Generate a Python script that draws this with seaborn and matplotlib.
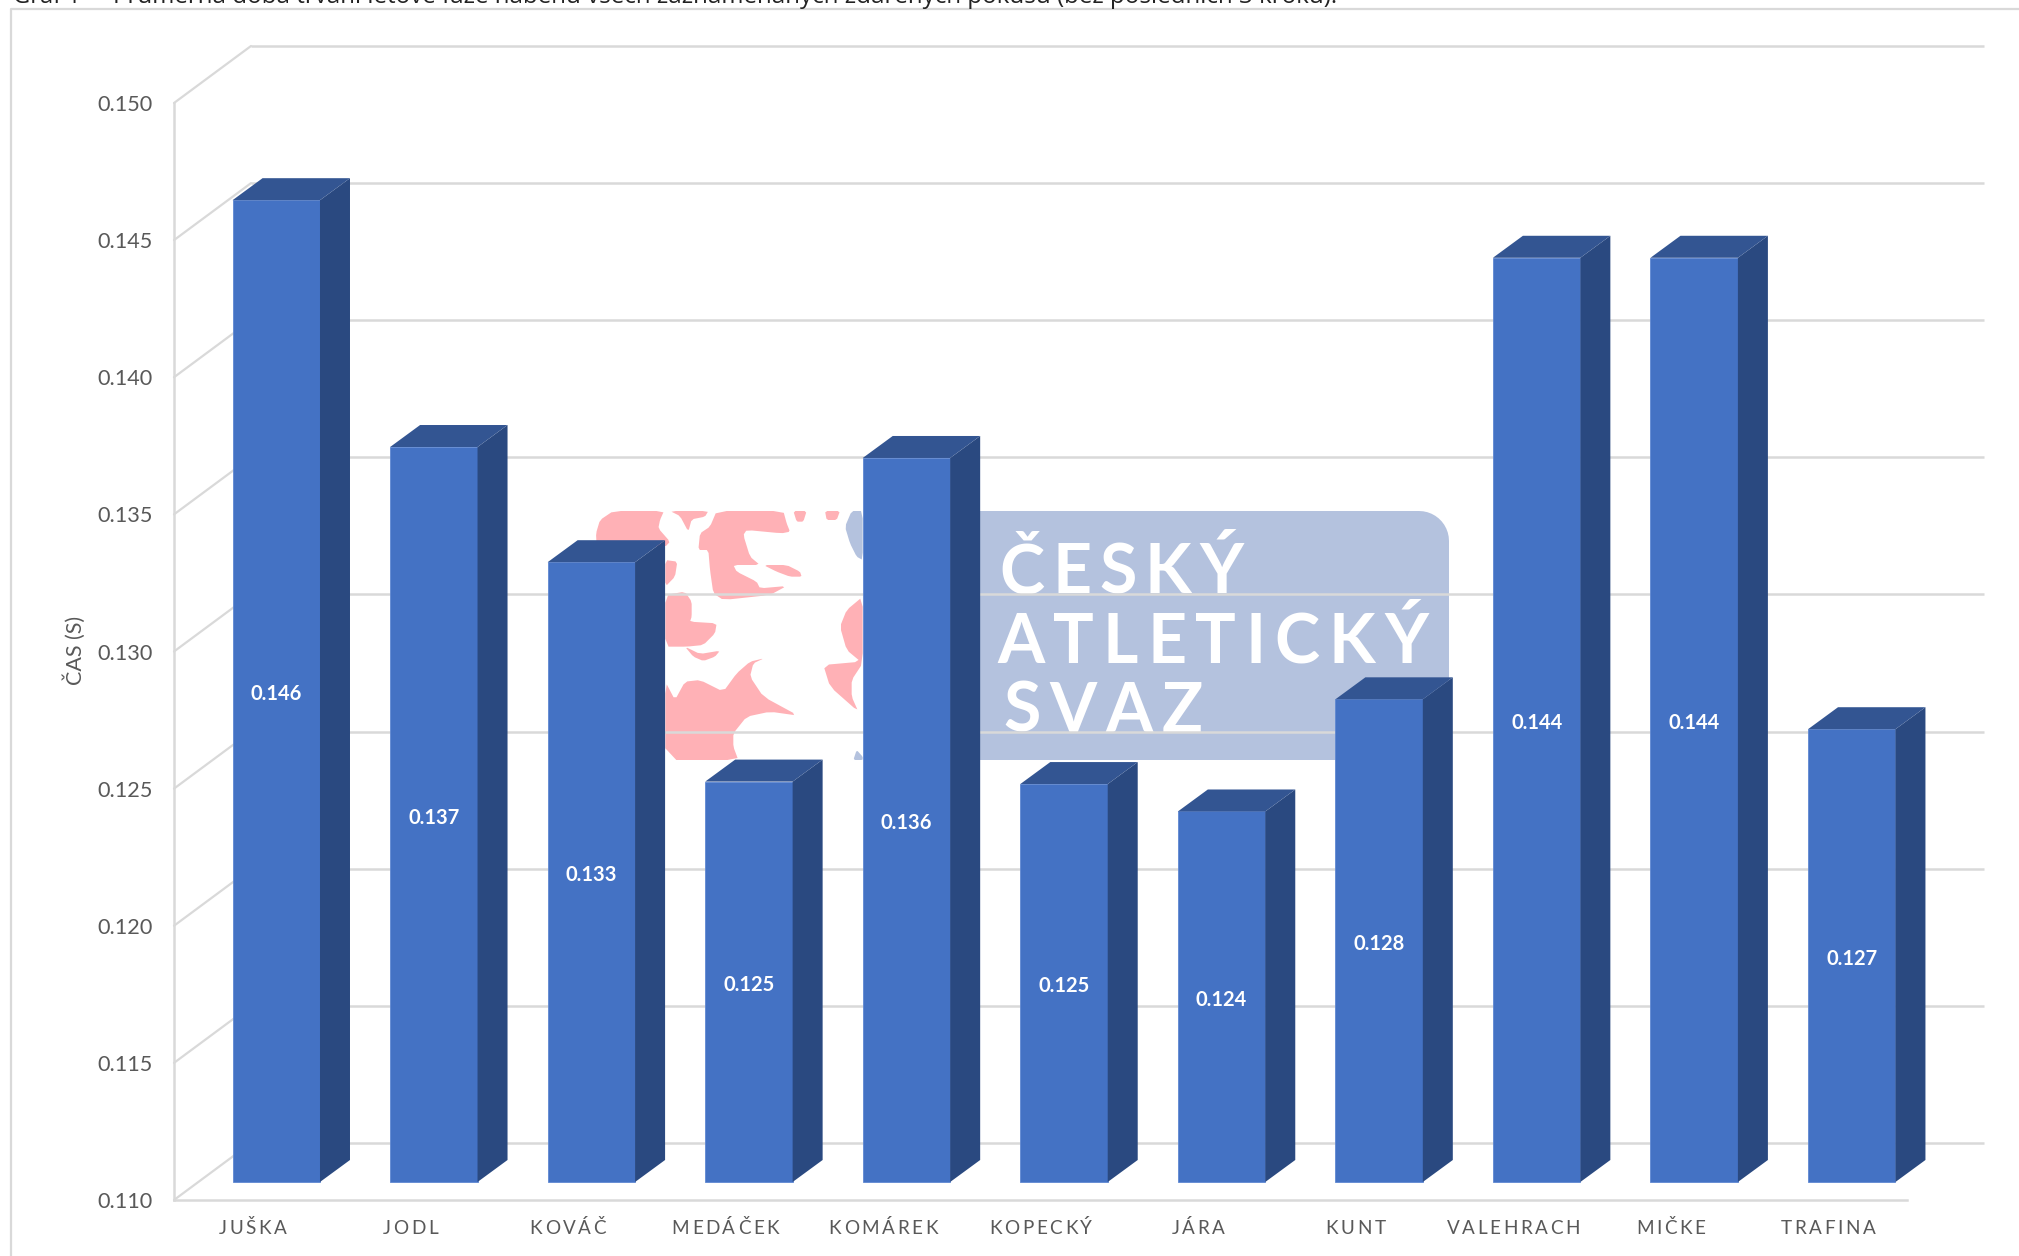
"""3D-look bar chart of flight phase times, drawn on a flat seaborn barplot."""
import matplotlib
matplotlib.use("Agg")
import matplotlib.pyplot as plt
import numpy as np
import seaborn as sns
from matplotlib.lines import Line2D
from matplotlib.patches import Polygon, Rectangle
from matplotlib.text import Text
from matplotlib.transforms import Affine2D, IdentityTransform

names = ["JUŠKA", "JODL", "KOVÁČ", "MEDÁČEK", "KOMÁREK", "KOPECKÝ", "JÁRA", "KUNT",
         "VALEHRACH", "MIČKE", "TRAFINA"]
times = [0.1458, 0.1368, 0.1326, 0.1246, 0.1364, 0.12451, 0.12351, 0.1276, 0.1437, 0.1437, 0.12651]
y_ticks = [0.110, 0.115, 0.120, 0.125, 0.130, 0.135, 0.140, 0.145, 0.150]
y_labels = ["0.110", "0.115", "0.120", "0.125", "0.130", "0.135", "0.140", "0.145", "0.150"]
y_title = "ČAS (S)"
caption_head = "Graf 1"
caption = ("Průměrná doba trvání letové fáze náběhu všech zaznamenaných zdařených pokusů "
           "(bez posledních 3 kroků).")

W, H, DPI = 2019, 1256, 100
BASE = y_ticks[0]
FRONT, SIDE, TOP = "#4472C4", "#2A4980", "#335592"
GRID, TXT = "#D9D9D9", "#595959"
PINK, BLUE = "#FFB1B6", "#B4C2DE"
WALL = (77, 57)     # floor depth in px
BAR_IN = (23.5, 18)   # bars stand a bit behind the front edge
BAR_D = (30, 22)    # depth of one bar

sns.set_theme(style="white")
plt.rcParams["font.family"] = ["Lato", "DejaVu Sans"]

fig = plt.figure(figsize=(W / DPI, H / DPI), dpi=DPI, facecolor="white")
ax = fig.add_axes([174 / W, (H - 1200) / H, (1907 - 174) / W, (1200 - 103) / H], facecolor="none")


def px_poly(points, color, z=-1):
    """Logo piece, points given in image pixels (y down)."""
    pts = [(x, H - y) for x, y in points]
    fig.add_artist(Polygon(pts, closed=True, fc=color, ec="none", transform=IdentityTransform(), zorder=z))


def logo_poly(points, color=PINK):
    p = np.array(points, float)
    q = np.roll(p, -1, axis=0)
    soft = np.column_stack([0.85 * p + 0.15 * q, 0.15 * p + 0.85 * q]).reshape(-1, 2)
    px_poly([(590 + x / 3, 500 + y / 3) for x, y in soft], color)


def track(label, gap):
    """Draw a text letter by letter with gap px of tracking, the string stays whole."""
    def draw(renderer):
        x, y = label.get_transform().transform(label.get_unitless_position())
        fp = label.get_fontproperties()
        s = label.get_text()
        widths = [renderer.get_text_width_height_descent(c, fp, False)[0] for c in s]
        if label.get_ha() == "center":
            x -= (sum(widths) + gap * (len(s) - 1)) / 2
        for c, w in zip(s, widths):
            t = Text(x, y, c, fontproperties=fp, color=label.get_color(), ha="left", va="baseline",
                     transform=IdentityTransform())
            t.set_figure(fig)
            t.draw(renderer)
            x += w + gap
    label.draw = draw


# ---- logo behind the plot ----
arc = np.linspace(0, np.pi / 2, 12)
corner = list(zip(1419 + 30 * np.sin(arc), 541 - 30 * np.cos(arc)))
px_poly([(860, 760), (860, 511)] + corner + [(1449, 760)], BLUE)
fig.add_artist(Rectangle((840, H - 770), 140, 259, fc="white", ec="none", transform=IdentityTransform(), zorder=-1))
logo_poly([(18, 100), (30, 60), (70, 33), (222, 33), (210, 60), (205, 85), (240, 125), (226, 140), (20, 140)])
logo_poly([(226, 180), (262, 185), (255, 230), (226, 260)])
logo_poly([(240, 33), (355, 33), (345, 50), (305, 58), (295, 95), (270, 48)])
logo_poly([(380, 33), (580, 33), (590, 70), (600, 95), (575, 100), (470, 90), (460, 105), (480, 170), (510, 195),
           (430, 195), (440, 215), (500, 245), (510, 265), (590, 258), (540, 285), (400, 300), (370, 280),
           (360, 210), (355, 150), (325, 150), (330, 100), (360, 80)])
logo_poly([(520, 195), (590, 195), (630, 215), (635, 230), (600, 230), (560, 215)])
logo_poly([(610, 33), (650, 33), (640, 65), (620, 65)])
logo_poly([(705, 33), (750, 33), (740, 60), (710, 60)])
logo_poly([(226, 285), (285, 275), (305, 305), (305, 350), (300, 365), (380, 370), (375, 400), (340, 435),
           (290, 440), (226, 440)])
logo_poly([(285, 440), (330, 462), (390, 452), (375, 470), (340, 483), (310, 470)])
logo_poly([(226, 545), (255, 600), (285, 545), (330, 540), (400, 575), (440, 520), (480, 485), (522, 475),
           (490, 490), (480, 530), (520, 590), (625, 647), (540, 635), (470, 650), (430, 700), (430, 740),
           (445, 780), (226, 780)])
logo_poly([(818, 290), (770, 330), (750, 380), (770, 450), (812, 485), (700, 495), (720, 560), (805, 635),
           (785, 590), (785, 540), (818, 490)])
logo_poly([(785, 33), (818, 33), (818, 180), (800, 170), (780, 130), (765, 80)], BLUE)
logo_poly([(790, 780), (800, 750), (818, 770), (818, 780)], BLUE)
for word, x0, y0, gap in [("ČESKÝ", 999, 593, 8), ("ATLETICKÝ", 997, 663, 9), ("SVAZ", 1003, 732, 9)]:
    t = fig.text(x0 / W, 1 - y0 / H, word, color="white", fontsize=49, fontweight="bold", ha="left", va="baseline",
                 zorder=-1)
    track(t, gap)

# ---- chart frame and cut-off caption ----
fig.add_artist(Line2D([11, 11, W], [0, H - 9, H - 9], color=GRID, lw=1.6, transform=IdentityTransform()))
fig.text(13 / W, 1 - 3 / H, caption_head, fontsize=17, color="#222222", family="Open Sans", va="baseline")
fig.text(113 / W, 1 - 3 / H, caption, fontsize=17.4, color="#222222", family="Open Sans", va="baseline")

# ---- flat bars from seaborn, then shifted and extruded ----
sns.barplot(x=names, y=times, color=FRONT, saturation=1, width=0.555, ax=ax, zorder=3,
            edgecolor="#5F88D2", linewidth=0.6)
ax.set_xlim(-0.5, len(names) - 0.5)
ax.set_ylim(BASE, y_ticks[-1])
ax.set_yticks(y_ticks, y_labels)
ax.set_ylabel(y_title, fontsize=15.5, color=TXT)
ax.yaxis.set_label_coords(-0.051, 0.501)
ax.set_xlabel("")
sns.despine(ax=ax)
for s in ("left", "bottom"):
    ax.spines[s].set_color(GRID)
    ax.spines[s].set_linewidth(1.8)
ax.tick_params(axis="y", length=4.3, width=1.4, color=GRID, labelcolor=TXT, labelsize=15.6, pad=11)
ax.tick_params(axis="x", length=0, labelcolor=TXT, labelsize=13.6, pad=24.5)
for lab in ax.get_xticklabels():
    lab.set_va("baseline")
    track(lab, 2.6)

to_px = ax.transData
shift_bar = to_px + Affine2D().translate(*BAR_IN)
shift_wall = to_px + Affine2D().translate(*WALL)
shift_label = shift_bar + Affine2D().translate(0, -3)

# back wall grid + side wall diagonals
ax.hlines(y_ticks, -0.5, len(names) - 0.5, color=GRID, lw=1.8, transform=shift_wall, clip_on=False, zorder=1)
for v in y_ticks:
    x0, y0 = to_px.transform((-0.5, v))
    ax.add_line(Line2D([x0, x0 + WALL[0]], [y0, y0 + WALL[1]], color=GRID, lw=1.6,
                       transform=IdentityTransform(), clip_on=False, zorder=1))

dx, dy = BAR_D
for p, v in zip(ax.patches, times):
    p.set_y(BASE)
    p.set_height(v - BASE)
    p.set_transform(shift_bar)
    p.set_clip_on(False)
    xl = p.get_x()
    xr = xl + p.get_width()
    (x0, y0), (x1, y1), (_, y2) = shift_bar.transform([(xl, BASE), (xr, BASE), (xr, v)])
    ax.add_patch(Polygon([(x1, y1), (x1 + dx, y1 + dy), (x1 + dx, y2 + dy), (x1, y2)], fc=SIDE, ec="none",
                         transform=IdentityTransform(), clip_on=False, zorder=3))
    ax.add_patch(Polygon([(x0, y2), (x1, y2), (x1 + dx, y2 + dy), (x0 + dx, y2 + dy)], fc=TOP, ec="none",
                         transform=IdentityTransform(), clip_on=False, zorder=3))
    ax.text((xl + xr) / 2, (BASE + v) / 2, f"{v:.3f}", color="white", fontsize=14.5, fontweight="bold",
            ha="center", va="center", transform=shift_label, zorder=4)

fig.savefig("out.png", dpi=DPI)
